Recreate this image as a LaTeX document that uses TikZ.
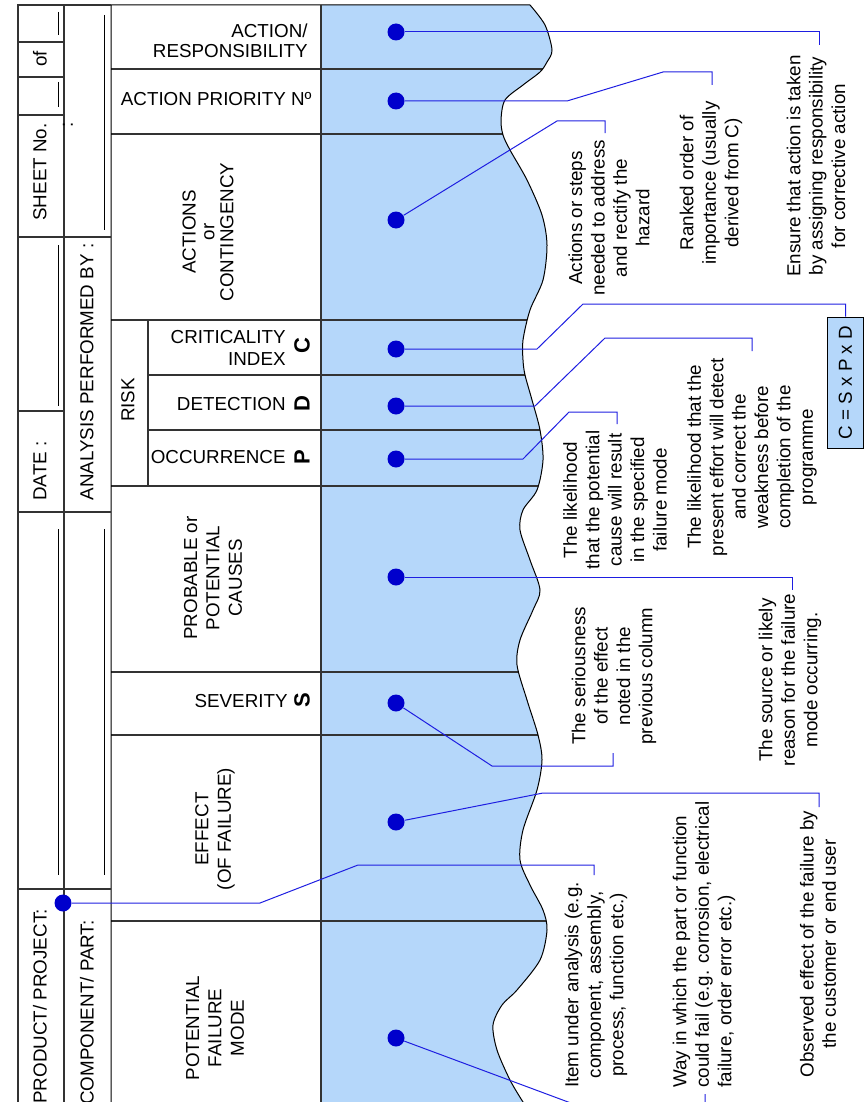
\documentclass[tikz,border=0pt]{standalone}
\usepackage{fontspec}
\setmainfont{Liberation Sans}
\definecolor{formblue}{RGB}{181,215,250}
\definecolor{dotblue}{RGB}{0,0,204}
\definecolor{leadblue}{RGB}{30,30,225}
\begin{document}
\begin{tikzpicture}[x=0.5pt, y=-0.5pt,
    every node/.style={font=\fontsize{9.4}{11.2}\selectfont, inner sep=0pt},
    form/.style={line width=0.7pt, black!80},
    fillin/.style={line width=0.5pt, black},
    dot/.style={circle, fill=dotblue, minimum size=8.5pt, inner sep=0pt},
    leader/.style={leadblue, line width=0.5pt},
    note/.style={rotate=90, align=center},
    head/.style={rotate=90, align=center},
    letter/.style={rotate=90, font=\fontsize{11}{11}\selectfont\bfseries}]
    \useasboundingbox (0,0) rectangle (863,1102);

    \path[save path=\bluearea] (111,5) -- plot[smooth] coordinates {(530,5) (545,25) (552,50) (547,62)
        (540,72) (523,85) (505,100) (501,120) (503,135) (510,150) (527,180) (542,215) (547,245)
        (543,280) (530,310) (523,340) (523,360) (525,375) (532,400) (540,430) (543,460) (537,490)
        (523,510) (520,530) (530,560) (540,590) (533,610) (520,640) (517,665) (527,700) (538,735)
        (542,760) (537,790) (523,830) (520,860) (530,885) (543,910) (547,930) (540,960) (517,990)
        (502,1005) (493,1025) (497,1050) (510,1080) (523,1102) (530,1112)} -- (111,1112) -- cycle;
    \begin{scope}
        \clip[use path=\bluearea];
        \fill[formblue] (321,0) rectangle (620,1112);
        \foreach \y in {69,134,320,486,672,735,921}
            \draw[form] (111,\y) -- (620,\y);
        \foreach \y in {375,430}
            \draw[form] (148,\y) -- (620,\y);
    \end{scope}
    \draw[line width=0.5pt, black, use path=\bluearea];

    \draw[form] (18,1112) -- (18,5) -- (111,5);
    \draw[form] (64,5) -- (64,1112);
    \draw[form] (321,5) -- (321,1112);
    \draw[form] (148,320) -- (148,486);
    \foreach \y in {42,77,115,411}
        \draw[form] (18,\y) -- (64,\y);
    \foreach \y in {237,512,889}
        \draw[form] (18,\y) -- (111,\y);
    \foreach \a/\b in {12/35,82/107,245/406,529/875}
        \draw[fillin] (58,\a) -- (58,\b);
    \foreach \a/\b in {15/230,529/875}
        \draw[fillin] (104,\a) -- (104,\b);

    \node[head] (oflabel) at (40,59) {of};
    \node[head] (sheet) at (40,172) {SHEET No.};
    \node[head] (sheetcolon) at (68,125) {:};
    \node[head] (date) at (40,471) {DATE :};
    \node[head] (analysis) at (87,372) {ANALYSIS PERFORMED BY :};
    \node[head, anchor=west] (product) at (40,1104) {PRODUCT/ PROJECT:};
    \node[head, anchor=west] (component) at (87,1105) {COMPONENT/ PART:};

    \node[anchor=east, align=right, font=\fontsize{9.4}{9.8}\selectfont] (resp) at (308,41) {ACTION/\\RESPONSIBILITY};
    \node[anchor=east] (prio) at (312,99) {ACTION PRIORITY Nº};
    \node[head, font=\fontsize{9.4}{9.4}\selectfont] (actions) at (208,232) {ACTIONS\\or\\CONTINGENCY};
    \node[head] (risk) at (128,400) {RISK};
    \node[anchor=east, align=right, font=\fontsize{9.4}{10.6}\selectfont] (crit) at (286,348) {CRITICALITY\\INDEX};
    \node[letter] (critc) at (302,346) {C};
    \node[anchor=east] (detect) at (286,404) {DETECTION};
    \node[letter] (detectd) at (302,404) {D};
    \node[anchor=east] (occur) at (286,457) {OCCURRENCE};
    \node[letter] (occurp) at (302,457) {P};
    \node[head] (causes) at (213,578) {PROBABLE or\\POTENTIAL\\CAUSES};
    \node[anchor=east] (sever) at (288,701) {SEVERITY};
    \node[letter] (severs) at (302,700) {S};
    \node[head] (effect) at (215,829) {EFFECT\\(OF FAILURE)};
    \node[head] (mode) at (215,1028) {POTENTIAL\\FAILURE\\MODE};

    \node[note] (ensure) at (816,166) {Ensure that action is taken\\by assigning responsibility\\for corrective action};
    \node[note] (ranked) at (711,183) {Ranked order of\\importance (usually\\derived from C)};
    \node[note] (steps) at (609,218) {Actions or steps\\needed to address\\and rectify the\\hazard};
    \node[draw, fill=formblue, rotate=90, minimum width=65.5pt, minimum height=18pt] (cform) at (845.5,382.5) {C = S x P x D};
    \node[note] (detnote) at (752,457) {The likelihood that the\\present effort will detect\\and correct the\\weakness before\\completion of the\\programme};
    \node[note] (occnote) at (615,500) {The likelihood\\that the potential\\cause will result\\in the specified\\failure mode};
    \node[note] (causenote) at (790,680) {The source or likely\\reason for the failure\\mode occurring.};
    \node[note] (sevnote) at (614,676) {The seriousness\\of the effect\\noted in the\\previous column};
    \node[note] (effnote) at (818,944) {Observed effect of the failure by\\the customer or end user};
    \node[note, align=left, anchor=west] (waynote) at (704,1088) {Way in which the part or function\\could fail (e.g. corrosion, electrical\\failure, order error etc.)};
    \node[note] (itemnote) at (596,985) {Item under analysis (e.g.\\component, assembly,\\process, function etc.)};

    \foreach \n/\y in {dresp/32, dprio/101, dact/220, dcrit/349, ddet/406, docc/459, dcause/577, dsev/703, deff/822, dmode/1038}
        \node[dot] (\n) at (396,\y) {};
    \node[dot] (dprod) at (63,903) {};

    \coordinate (tresp) at (819,45);
    \coordinate (tprio) at (712,85);
    \coordinate (tact) at (605,133);
    \coordinate (tdet) at (752,351);
    \coordinate (tocc) at (617,424);
    \coordinate (tcause) at (792,590);
    \coordinate (tsev) at (613,753);
    \coordinate (teff) at (819,807);
    \coordinate (tprod) at (594,875);
    \coordinate (tmode) at (705,1094);

    \draw[leader] (dresp) -| (tresp);
    \draw[leader] (dprio) -- (567,101) -- (663,72) -| (tprio);
    \draw[leader] (dact) -- (557,121) -| (tact);
    \draw[leader] (dcrit) -- (537,349) -- (583,304) -| (cform);
    \draw[leader] (ddet) -- (535,406) -- (605,338) -| (tdet);
    \draw[leader] (docc) -- (523,459) -- (569,412) -| (tocc);
    \draw[leader] (dcause) -| (tcause);
    \draw[leader] (dsev) -- (492,766) -| (tsev);
    \draw[leader] (deff) -- (543,793) -| (teff);
    \draw[leader] (dprod) -- (260,903) -- (358,865) -| (tprod);
    \draw[leader] (dmode) -- (595,1112) -| (tmode);
\end{tikzpicture}
\end{document}
